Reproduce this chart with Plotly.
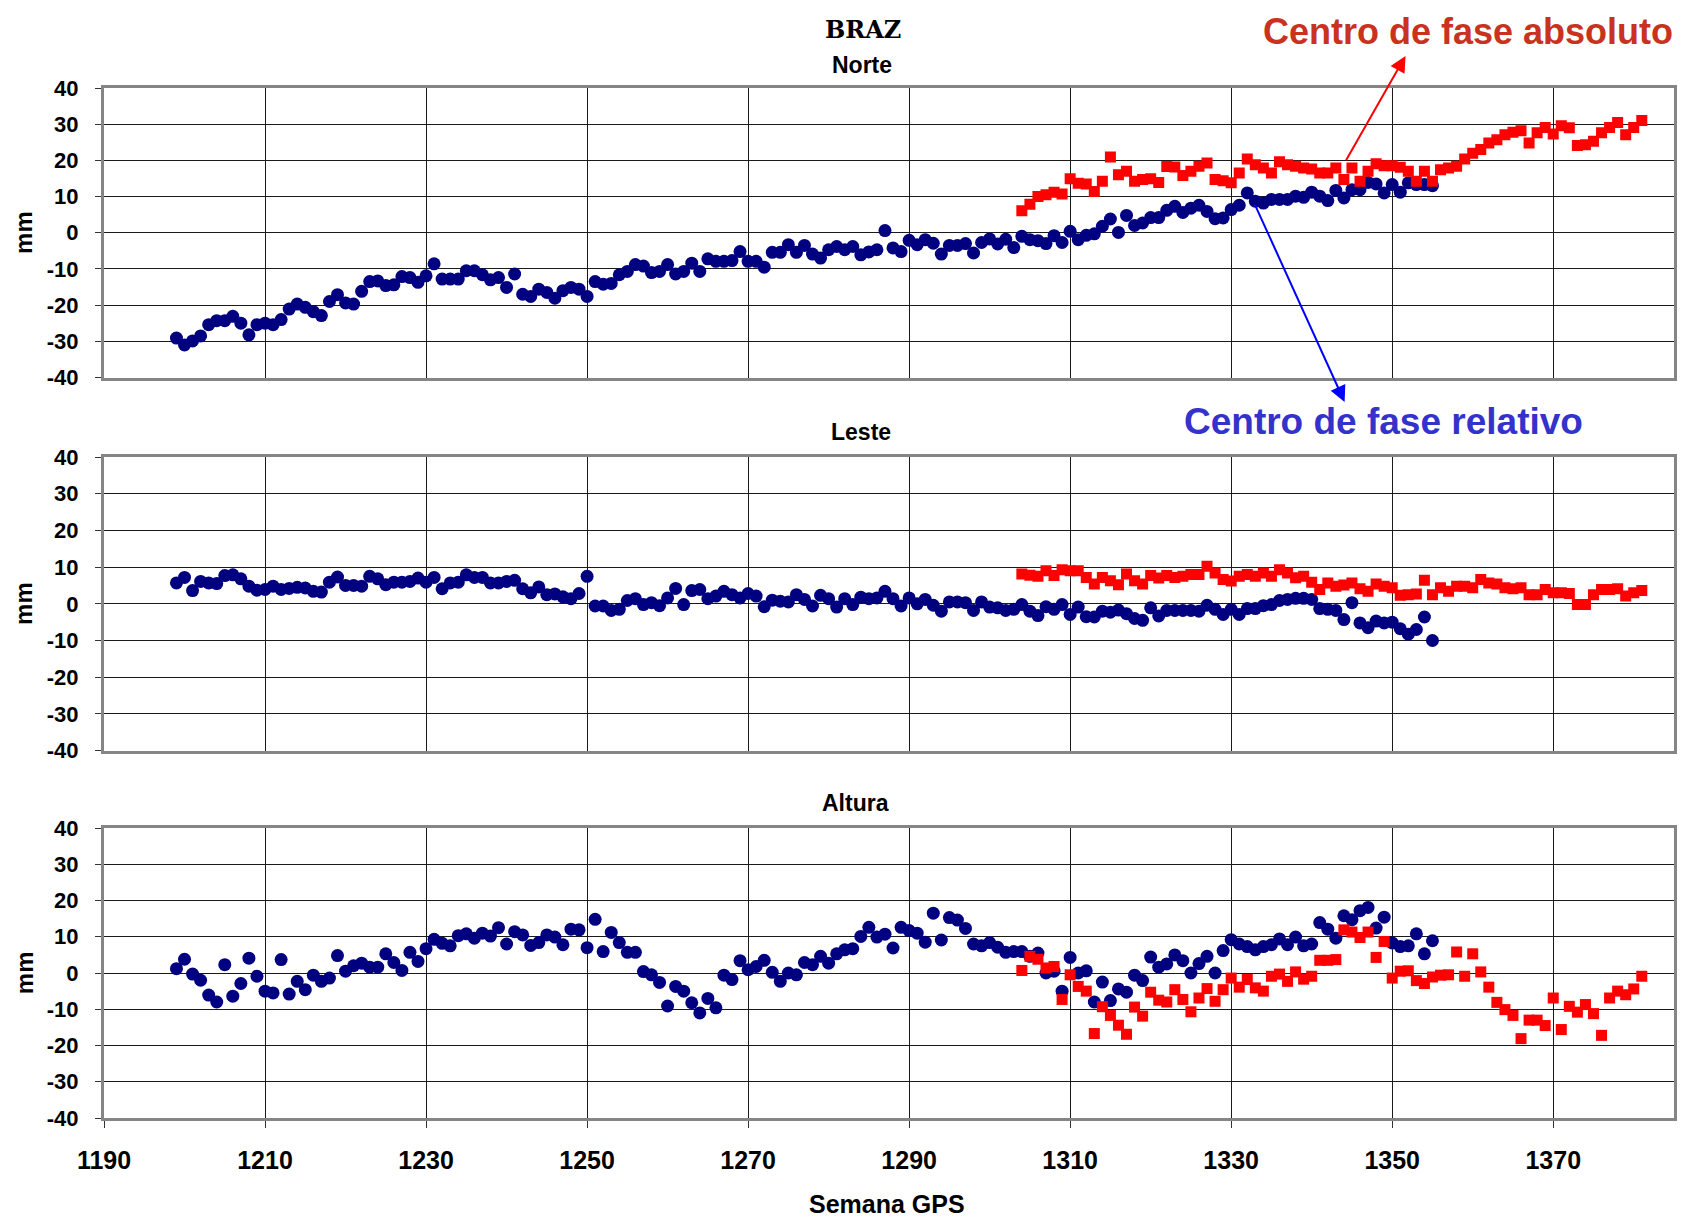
import plotly.graph_objects as go

# ---------------- data ----------------
weeks_rel = list(range(1199, 1356))   # GPS weeks, relative phase-centre solution
weeks_abs = list(range(1304, 1382))   # GPS weeks, absolute phase-centre solution

norte_rel = [-29.1, -31, -29.9, -28.5, -25.4, -24.3, -24.3, -23.1, -25, -28.2,
             -25.4, -25, -25.4, -24, -21.1, -19.7, -20.6, -21.8, -22.9, -19,
             -17.1, -19.4, -19.7, -16.2, -13.5, -13.3, -14.6, -14.4, -12.1, -12.4,
             -13.7, -11.9, -8.6, -12.8, -12.8, -12.8, -10.5, -10.5, -11.6, -13,
             -12.4, -15.1, -11.4, -17, -17.6, -15.6, -16.5, -18.1, -16, -15.1,
             -15.6, -17.6, -13.5, -14.2, -14, -11.6, -10.7, -8.8, -9.2, -11,
             -10.7, -8.8, -11.4, -10.7, -8.4, -10.7, -7.2, -7.9, -7.9, -7.7,
             -5.2, -7.9, -7.9, -9.5, -5.4, -5.4, -3.3, -5.4, -3.5, -5.9,
             -7, -4.7, -3.8, -4.7, -3.8, -6.1, -5.3, -4.7, 0.6, -4.2,
             -5.2, -2.1, -3.3, -1.9, -2.9, -5.9, -3.5, -3.5, -3, -5.6,
             -2.7, -1.7, -3.1, -1.8, -4.1, -1, -1.9, -2.2, -3, -0.8,
             -2.7, 0.4, -1.9, -0.7, -0.3, 1.8, 3.8, 0.1, 4.8, 2,
             2.7, 4.2, 4.2, 6.2, 7.3, 5.6, 6.8, 7.6, 5.9, 3.9,
             4.1, 6.4, 7.6, 11, 8.7, 8.2, 9.2, 9.2, 9.2, 10.1,
             9.8, 11.2, 10.1, 8.9, 11.7, 9.6, 11.9, 11.9, 13.9, 13.5,
             11, 13.3, 11.2, 13.8, 13.3, 13.3, 13]
norte_abs = [6.1, 7.9, 10, 10.5, 11.2, 10.7, 14.9, 13.7, 13.5, 11.4,
             14.2, 20.9, 16, 17, 14.2, 14.7, 14.9, 13.9, 18.3, 18.2,
             15.8, 17, 18.4, 19.3, 14.7, 14.4, 13.8, 16.5, 20.4, 18.8,
             17.9, 16.5, 19.6, 18.8, 18.4, 17.9, 17.6, 16.5, 16.5, 17.9,
             14.7, 17.9, 14.2, 17, 19.1, 18.5, 18.5, 18.1, 17, 14.2,
             17, 14.2, 17.4, 17.9, 18.4, 20.4, 22, 23, 24.8, 25.7,
             27.1, 27.8, 28.2, 24.8, 27.6, 29.1, 27.3, 29.6, 29, 24.1,
             24.3, 25.3, 27.6, 29.1, 30.5, 27.1, 29.1, 31]

leste_rel = [5.7, 7.2, 3.6, 6.1, 5.7, 5.5, 7.7, 7.9, 6.8, 4.8,
             3.7, 3.9, 4.8, 3.9, 4.2, 4.5, 4.3, 3.4, 3.2, 5.9,
             7.3, 5, 5, 4.8, 7.5, 6.8, 5.2, 5.9, 5.9, 6.1,
             7, 5.9, 7.2, 4.1, 5.7, 5.9, 7.9, 7.2, 7.2, 5.7,
             5.7, 6.1, 6.4, 4.1, 3, 4.6, 2.5, 2.7, 1.9, 1.4,
             2.8, 7.5, -0.6, -0.6, -1.8, -1.5, 0.9, 1.4, -0.2, 0.3,
             -0.5, 1.6, 4.2, -0.2, 3.6, 3.9, 1.4, 2.1, 3.4, 2.5,
             1.6, 2.8, 2.1, -0.8, 1, 0.7, 0.5, 2.5, 1.2, -0.6,
             2.3, 1.4, -0.9, 1.4, -0.2, 1.8, 1.4, 1.6, 3.4, 1.4,
             -0.6, 1.6, 0, 1.2, -0.4, -2, 0.5, 0.5, 0.3, -1.8,
             0.5, -0.9, -1.1, -1.8, -1.5, -0.2, -2, -3.2, -0.8, -1.5,
             -0.2, -2.9, -0.9, -3.5, -3.6, -2, -2.3, -1.7, -2.7, -4,
             -4.5, -1.1, -3.3, -1.8, -1.8, -1.8, -1.8, -2, -0.4, -1.5,
             -2.9, -1.5, -2.9, -1.3, -1.3, -0.5, -0.2, 0.9, 1.2, 1.5,
             1.5, 1.2, -1.3, -1.5, -1.8, -4.3, 0.3, -5.2, -6.5, -4.7,
             -5.2, -5, -6.8, -8.3, -7, -3.6, -10]
leste_abs = [8.1, 7.8, 7.5, 9, 7.7, 9.3, 9, 9, 7.2, 5.4,
             7.2, 6.3, 5.2, 8.1, 6.3, 5.4, 7.7, 7, 7.7, 7.2,
             7.5, 8, 8, 10.2, 8.4, 6.6, 6.2, 7.5, 8, 7.5,
             8.4, 7.5, 9.3, 8.4, 7.1, 7.5, 5.9, 3.9, 5.7, 4.8,
             5.1, 5.7, 4.1, 3.4, 5.4, 4.8, 4.4, 2.3, 2.5, 2.7,
             6.4, 2.5, 4.4, 3.4, 4.8, 4.8, 4.4, 6.6, 5.7, 5.4,
             4.4, 4.1, 4.4, 2.5, 2.5, 3.9, 3, 3, 2.8, -0.2,
             -0.2, 2.5, 3.9, 3.9, 4.1, 2.1, 3, 3.6]

altura_rel = [1.2, 3.8, -0.3, -2, -6.1, -8, 2.3, -6.4, -2.9, 4.1,
              -0.9, -5, -5.5, 3.7, -5.8, -2.3, -4.6, -0.6, -2.3, -1.4,
              4.8, 0.5, 2, 2.7, 1.6, 1.6, 5.3, 2.9, 0.7, 5.7,
              3.2, 6.7, 9.3, 8.2, 7.5, 10.3, 10.8, 9.6, 11, 10.2,
              12.5, 8, 11.4, 10.5, 7.6, 8.4, 10.5, 9.9, 7.8, 12.1,
              11.9, 7, 14.8, 5.9, 11.2, 8.4, 5.7, 5.7, 0.4, -0.5,
              -2.6, -9.1, -3.7, -5, -8.2, -11, -7, -9.6, -0.6, -1.8,
              3.4, 0.9, 1.8, 3.5, 0.2, -2.3, 0, -0.5, 2.9, 2.3,
              4.6, 2.7, 5.3, 6.4, 6.7, 10.1, 12.6, 9.9, 10.7, 6.9,
              12.6, 11.7, 11, 8.5, 16.5, 9.1, 15.3, 14.6, 12.3, 8,
              7.5, 8.4, 7.1, 5.7, 5.9, 5.9, 4.6, 5.5, 0, 0.5,
              -5, 4.3, 0, 0.6, -8, -2.5, -7.6, -4.4, -5.3, -0.6,
              -2.1, 4.4, 1.6, 2.5, 5, 3.4, 0, 2.6, 4.6, 0,
              6.2, 9.2, 8, 7.3, 6.4, 7.3, 7.8, 9.4, 7.8, 9.9,
              7.5, 8, 13.9, 12.1, 9.6, 15.8, 14.7, 17.2, 18.1, 12.4,
              15.4, 8.3, 7.3, 7.5, 10.8, 5.3, 8.9]
altura_abs = [0.7, 4.6, 3.8, 1.4, 1.8, -7.3, -0.5, -3.7, -5, -16.7,
              -9.3, -11.7, -14.4, -16.9, -9.4, -11.9, -5.3, -7.5, -8, -4.6,
              -7.3, -10.7, -6.9, -4.3, -7.8, -4.6, -1.4, -3.9, -1.8, -4.1,
              -5, -0.9, -0.3, -2.3, 0.3, -1.7, -0.9, 3.5, 3.5, 3.7,
              11.9, 11.3, 9.8, 11.3, 4.3, 8.7, -1.4, 0.5, 0.6, -2.1,
              -2.9, -1.1, -0.6, -0.5, 5.8, -0.9, 5.3, 0.3, -3.9, -8.1,
              -10.1, -11.7, -18.1, -13, -13, -14.5, -6.9, -15.6, -9.2, -10.8,
              -8.7, -11.2, -17.2, -6.9, -5, -6, -4.4, -0.9]

panel_titles = ["Norte", "Leste", "Altura"]
x_ticks = [1190, 1210, 1230, 1250, 1270, 1290, 1310, 1330, 1350, 1370]
y_ticks = [-40, -30, -20, -10, 0, 10, 20, 30, 40]

# ---------------- figure ----------------
# the page body has an 8 px margin, so the figure is offset by 8 px
OFF = 8
W, H = 1686 - OFF, 1217 - OFF
ML, MR, MT, MB = 104 - OFF, 9, 88 - OFF, 99
PW, PH = W - ML - MR, H - MT - MB


def px2paper_x(px):          # px: page coordinate
    return (px - OFF - ML) / PW


def px2paper_y(py):
    return 1 - (py - OFF - MT) / PH


domains = [
    [px2paper_y(377.5), px2paper_y(88)],
    [px2paper_y(750.6), px2paper_y(457)],
    [px2paper_y(1118), px2paper_y(828)],
]

BLUE = "#000080"
RED = "#FF0000"
FONT = "Liberation Sans, Arial, sans-serif"

fig = go.Figure()
series = [(norte_rel, norte_abs), (leste_rel, leste_abs), (altura_rel, altura_abs)]
for i, (rel, ab) in enumerate(series):
    suffix = "" if i == 0 else str(i + 1)
    fig.add_trace(go.Scatter(x=weeks_rel, y=rel, mode="markers",
                             marker=dict(color=BLUE, size=13, symbol="circle", line=dict(width=0)),
                             xaxis="x" + suffix, yaxis="y" + suffix, showlegend=False,
                             name="Centro de fase relativo"))
    fig.add_trace(go.Scatter(x=weeks_abs, y=ab, mode="markers",
                             marker=dict(color=RED, size=11, symbol="square", line=dict(width=0)),
                             xaxis="x" + suffix, yaxis="y" + suffix, showlegend=False,
                             name="Centro de fase absoluto"))

layout = dict(
    width=W, height=H,
    margin=dict(l=ML, r=MR, t=MT, b=MB, pad=0),
    paper_bgcolor="white", plot_bgcolor="white",
    showlegend=False,
)

for i in range(3):
    suffix = "" if i == 0 else str(i + 1)
    last = (i == 2)
    layout["xaxis" + suffix] = dict(
        domain=[0, 1], anchor="y" + suffix, range=[1190, 1385],
        tickmode="array", tickvals=x_ticks, ticktext=[str(v) for v in x_ticks],
        showgrid=True, gridcolor="#1a1a1a", gridwidth=1,
        showline=True, linecolor="#858585", linewidth=3, mirror=True,
        zeroline=False,
        ticks="outside" if last else "", ticklen=7, tickcolor="#333", tickwidth=1,
        showticklabels=last,
        ticklabelstandoff=11,
        tickfont=dict(family=FONT, size=25, color="black", weight="bold"),
    )
    layout["yaxis" + suffix] = dict(
        domain=domains[i], anchor="x" + suffix, range=[-40, 40],
        tickmode="array", tickvals=y_ticks, ticktext=[str(v) for v in y_ticks],
        showgrid=True, gridcolor="#1a1a1a", gridwidth=1,
        showline=True, linecolor="#858585", linewidth=3, mirror=True,
        zeroline=False,
        ticks="outside", ticklen=6, tickcolor="#333", tickwidth=1,
        ticklabelstandoff=12,
        tickfont=dict(family=FONT, size=22, color="black", weight="bold"),
    )

fig.update_layout(**layout)

ann = []
# station title (typewriter-like serif face in the original)
ann.append(dict(text="BRAZ", xref="paper", yref="paper", x=px2paper_x(864), y=px2paper_y(29),
                xanchor="center", yanchor="middle", showarrow=False,
                font=dict(family="DejaVu Serif, Liberation Mono, serif", size=24,
                          color="black", weight="bold")))
# panel titles
title_pos = [(863.5, 64.5), (862, 432.3), (857, 803.2)]
for t, (tx, ty) in zip(panel_titles, title_pos):
    ann.append(dict(text=t, xref="paper", yref="paper", x=px2paper_x(tx), y=px2paper_y(ty),
                    xanchor="center", yanchor="middle", showarrow=False,
                    font=dict(family=FONT, size=23, color="black", weight="bold")))
# y-axis titles
for d in domains:
    ann.append(dict(text="mm", xref="paper", yref="paper", x=px2paper_x(24), y=(d[0] + d[1]) / 2,
                    xanchor="center", yanchor="middle", showarrow=False, textangle=-90,
                    font=dict(family=FONT, size=24, color="black", weight="bold")))
# x-axis title
ann.append(dict(text="Semana GPS", xref="paper", yref="paper", x=px2paper_x(888), y=px2paper_y(1204),
                xanchor="center", yanchor="middle", showarrow=False,
                font=dict(family=FONT, size=25, color="black", weight="bold")))
# callout labels
ann.append(dict(text="Centro de fase absoluto", xref="paper", yref="paper",
                x=px2paper_x(1678), y=px2paper_y(OFF + 1),
                xanchor="right", yanchor="top", showarrow=False,
                font=dict(family=FONT, size=36, color="#C8321F", weight="bold")))
ann.append(dict(text="Centro de fase relativo", xref="paper", yref="paper",
                x=px2paper_x(1386), y=px2paper_y(421.5),
                xanchor="center", yanchor="middle", showarrow=False,
                font=dict(family=FONT, size=37, color="#3333CC", weight="bold")))
# arrows (head position in paper coordinates, tail offset in pixels)
ann.append(dict(text="", xref="paper", yref="paper",
                x=px2paper_x(1408), y=px2paper_y(56),
                ax=1347.7 - 1408, ay=161.7 - 56,
                showarrow=True, arrowhead=2, arrowsize=1.6, arrowwidth=2,
                arrowcolor="#FF0000", standoff=0, startstandoff=0))
ann.append(dict(text="", xref="paper", yref="paper",
                x=px2paper_x(1347), y=px2paper_y(402),
                ax=1256.7 - 1347, ay=203.3 - 402,
                showarrow=True, arrowhead=2, arrowsize=1.6, arrowwidth=2,
                arrowcolor="#0000FF", standoff=0, startstandoff=0))

fig.update_layout(annotations=ann)

fig.write_html("out.html")
